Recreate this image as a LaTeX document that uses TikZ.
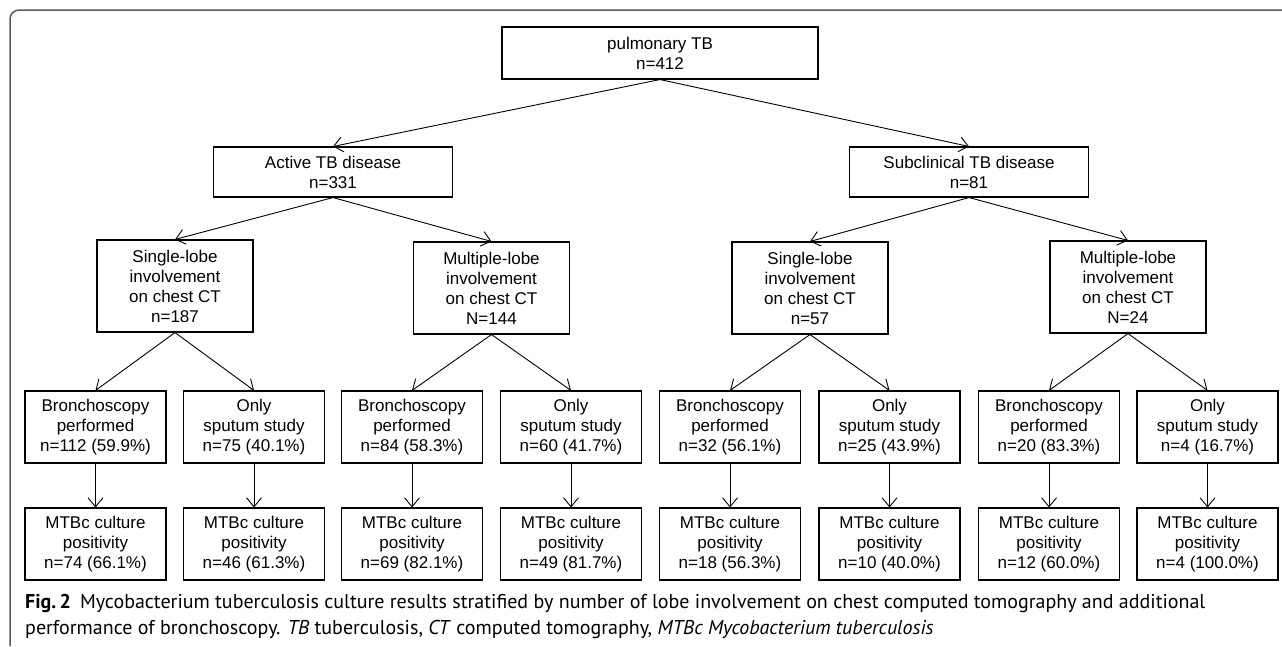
\documentclass[tikz,border=0pt]{standalone}
\usepackage{fontspec}
\setmainfont{Liberation Sans}
\newfontfamily\capfont{PT Sans}
\usetikzlibrary{arrows.meta, positioning}

\begin{document}
\begin{tikzpicture}[
		x=1pt, y=-1pt,
		every node/.style={font=\fontsize{17}{20}\selectfont, align=center},
		box/.style={draw, line width=1.1pt, inner sep=0pt},
		topbox/.style={box, minimum width=316pt, minimum height=52pt},
		groupbox/.style={box, minimum width=239pt, minimum height=50pt},
		lobebox/.style={box, minimum width=156pt, minimum height=92pt},
		leafbox/.style={box, minimum width=141pt, minimum height=72pt},
		arrow/.style={-{Straight Barb[length=9pt, width=15pt]}, line width=0.9pt},
		frame/.style={line width=1.5pt, black!65, rounded corners=9pt}
		]
		\useasboundingbox (0,0) rectangle (1282,646);
		
		% Frame
		\draw[frame] (10,646) -- (10,10) -- (1282,10);
		
		% Nodes
		\node[topbox] (pulm) at (660,53) {pulmonary TB\\n=412};
		\node[groupbox] (active) at (333,172) {Active TB disease\\n=331};
		\node[groupbox] (subclin) at (969,172) {Subclinical TB disease\\n=81};
		
		\node[lobebox] (singleA) at (175,286) {Single-lobe\\involvement\\on chest CT\\n=187};
		\node[lobebox] (multiA) at (491.5,288) {Multiple-lobe\\involvement\\on chest CT\\N=144};
		\node[lobebox] (singleS) at (810,288) {Single-lobe\\involvement\\on chest CT\\n=57};
		\node[lobebox] (multiS) at (1128,287) {Multiple-lobe\\involvement\\on chest CT\\N=24};
		
		\node[leafbox] (bronchA1) at (95.5,427) {Bronchoscopy\\performed\\n=112 (59.9\%)};
		\node[leafbox] (sputumA1) at (254,427) {Only\\sputum study\\n=75 (40.1\%)};
		\node[leafbox] (bronchA2) at (412,427) {Bronchoscopy\\performed\\n=84 (58.3\%)};
		\node[leafbox] (sputumA2) at (571,427) {Only\\sputum study\\n=60 (41.7\%)};
		\node[leafbox] (bronchS1) at (730,427) {Bronchoscopy\\performed\\n=32 (56.1\%)};
		\node[leafbox] (sputumS1) at (889.5,427) {Only\\sputum study\\n=25 (43.9\%)};
		\node[leafbox] (bronchS2) at (1049,427) {Bronchoscopy\\performed\\n=20 (83.3\%)};
		\node[leafbox] (sputumS2) at (1207.5,427) {Only\\sputum study\\n=4 (16.7\%)};
		
		\node[leafbox] (cultA1) at (95.5,544) {MTBc culture\\positivity\\n=74 (66.1\%)};
		\node[leafbox] (cultA2) at (254,544) {MTBc culture\\positivity\\n=46 (61.3\%)};
		\node[leafbox] (cultA3) at (412,544) {MTBc culture\\positivity\\n=69 (82.1\%)};
		\node[leafbox] (cultA4) at (571,544) {MTBc culture\\positivity\\n=49 (81.7\%)};
		\node[leafbox] (cultS1) at (730,544) {MTBc culture\\positivity\\n=18 (56.3\%)};
		\node[leafbox] (cultS2) at (889.5,544) {MTBc culture\\positivity\\n=10 (40.0\%)};
		\node[leafbox] (cultS3) at (1049,544) {MTBc culture\\positivity\\n=12 (60.0\%)};
		\node[leafbox] (cultS4) at (1207.5,544) {MTBc culture\\positivity\\n=4 (100.0\%)};
		
		% Caption
		\node[anchor=base west, align=left, inner sep=0pt, font=\capfont\fontsize{20}{26}\selectfont] (caption) at (25,634)
		{\textbf{Fig.\,2}\hspace{9pt}Mycobacterium tuberculosis culture results stratified by number of lobe involvement on chest computed tomography and additional\\
			performance of bronchoscopy. \textit{TB} tuberculosis, \textit{CT} computed tomography, \textit{MTBc Mycobacterium tuberculosis}};
		
		% Disease groups
		\draw[arrow] (pulm.south) -- (active.north);
		\draw[arrow] (pulm.south) -- (subclin.north);
		
		% Lobe involvement
		\draw[arrow] (active.south) -- (singleA.north);
		\draw[arrow] (active.south) -- (multiA.north);
		\draw[arrow] (subclin.south) -- (singleS.north);
		\draw[arrow] (subclin.south) -- (multiS.north);
		
		% Work-up
		\draw[arrow] (singleA.south) -- (bronchA1.north);
		\draw[arrow] (singleA.south) -- (sputumA1.north);
		\draw[arrow] (multiA.south) -- (bronchA2.north);
		\draw[arrow] (multiA.south) -- (sputumA2.north);
		\draw[arrow] (singleS.south) -- (bronchS1.north);
		\draw[arrow] (singleS.south) -- (sputumS1.north);
		\draw[arrow] (multiS.south) -- (bronchS2.north);
		\draw[arrow] (multiS.south) -- (sputumS2.north);
		
		% Culture results
		\draw[arrow] (bronchA1) -- (cultA1);
		\draw[arrow] (sputumA1) -- (cultA2);
		\draw[arrow] (bronchA2) -- (cultA3);
		\draw[arrow] (sputumA2) -- (cultA4);
		\draw[arrow] (bronchS1) -- (cultS1);
		\draw[arrow] (sputumS1) -- (cultS2);
		\draw[arrow] (bronchS2) -- (cultS3);
		\draw[arrow] (sputumS2) -- (cultS4);
		
	\end{tikzpicture}
\end{document}
